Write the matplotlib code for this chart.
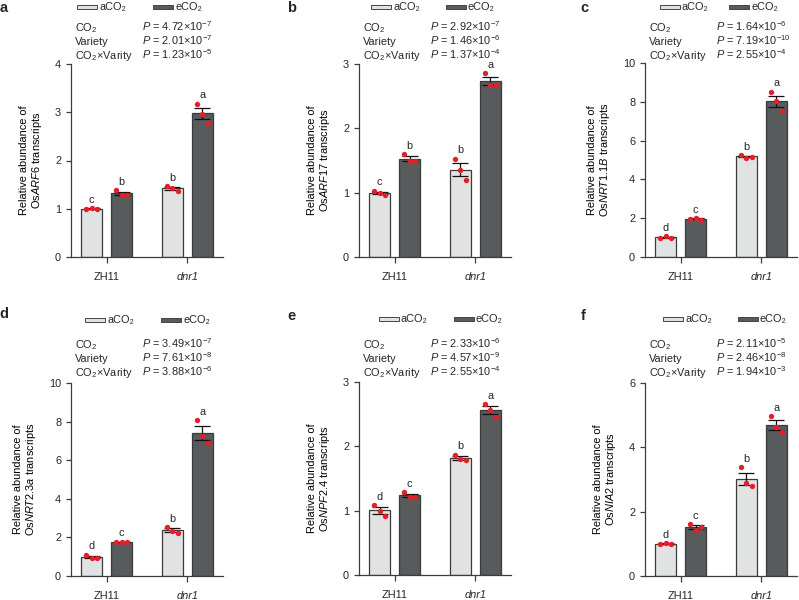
import numpy as np
import matplotlib.pyplot as plt
from matplotlib.patches import Rectangle

plt.rcParams['font.family'] = ['Liberation Sans', 'DejaVu Sans']
plt.rcParams['mathtext.fontset'] = 'custom'
plt.rcParams['mathtext.rm'] = 'Liberation Sans'
plt.rcParams['mathtext.it'] = 'Liberation Sans:italic'
plt.rcParams['mathtext.bf'] = 'Liberation Sans:bold'
plt.rcParams['font.size'] = 7.9
plt.rcParams['text.color'] = '#262626'

# replicate values: [ZH11, dnr1] x 3 replicates
groups = ['ZH11', 'dnr1']

arf6_a = [[1.00, 1.02, 0.99], [1.47, 1.44, 1.37]]
arf6_e = [[1.38, 1.29, 1.29], [3.18, 2.97, 2.78]]
arf6_let = [['c', 'b'], ['b', 'a']]   # [ZH11: aCO2, eCO2], [dnr1: aCO2, eCO2]
arf6_p = ['4.72×$10^{-7}$', '2.01×$10^{-7}$', '1.23×$10^{-5}$']

arf17_a = [[1.03, 1.00, 0.97], [1.53, 1.35, 1.19]]
arf17_e = [[1.60, 1.50, 1.49], [2.86, 2.68, 2.68]]
arf17_let = [['c', 'b'], ['b', 'a']]
arf17_p = ['2.92×$10^{-7}$', '1.46×$10^{-6}$', '1.37×$10^{-4}$']

nrt11b_a = [[0.98, 1.06, 1.00], [5.25, 5.12, 5.18]]
nrt11b_e = [[1.95, 2.02, 1.93], [8.53, 8.02, 7.50]]
nrt11b_let = [['d', 'c'], ['b', 'a']]
nrt11b_p = ['1.64×$10^{-6}$', '7.19×$10^{-10}$', '2.55×$10^{-4}$']

nrt23a_a = [[1.10, 0.95, 0.95], [2.55, 2.35, 2.25]]
nrt23a_e = [[1.77, 1.78, 1.76], [8.07, 7.24, 6.90]]
nrt23a_let = [['d', 'c'], ['b', 'a']]
nrt23a_p = ['3.49×$10^{-7}$', '7.61×$10^{-8}$', '3.88×$10^{-6}$']

npf24_a = [[1.09, 1.00, 0.92], [1.87, 1.80, 1.79]]
npf24_e = [[1.29, 1.22, 1.21], [2.66, 2.57, 2.46]]
npf24_let = [['d', 'c'], ['b', 'a']]
npf24_p = ['2.33×$10^{-6}$', '4.57×$10^{-9}$', '2.55×$10^{-4}$']

nia2_a = [[0.98, 1.03, 0.99], [3.39, 2.89, 2.79]]
nia2_e = [[1.62, 1.43, 1.53], [4.97, 4.62, 4.48]]
nia2_let = [['d', 'c'], ['b', 'a']]
nia2_p = ['2.11×$10^{-5}$', '2.46×$10^{-8}$', '1.94×$10^{-3}$']

light = '#e1e3e2'
dark = '#575b5c'
edge = '#3a3a3a'
red = '#e3202a'

W, H = 799, 600
fig = plt.figure(figsize=(W / 100, H / 100), dpi=100)

def fx(x):
    return x / W

def fy(y):
    return 1 - y / H

# letter, gene, data, ylim, ystep, axes box (left, top, bottom px), legend x's, legend y, letter pos
panels = [
    ('a', 'ARF6', arf6_a, arf6_e, arf6_let, arf6_p, 4, 1, (71, 64, 257), (77, 153), 7, (4, 8)),
    ('b', 'ARF17', arf17_a, arf17_e, arf17_let, arf17_p, 3, 1, (359, 64, 257), (371, 446), 7, (292, 8)),
    ('c', 'NRT1.1B', nrt11b_a, nrt11b_e, nrt11b_let, nrt11b_p, 10, 2, (645, 63, 257), (660, 729), 7, (584, 8)),
    ('d', 'NRT2.3a', nrt23a_a, nrt23a_e, nrt23a_let, nrt23a_p, 10, 2, (71, 383, 576), (85, 161), 320, (4, 314)),
    ('e', 'NPF2.4', npf24_a, npf24_e, npf24_let, npf24_p, 3, 1, (359, 382, 575), (379, 454), 319, (292, 316)),
    ('f', 'NIA2', nia2_a, nia2_e, nia2_let, nia2_p, 6, 2, (645, 383, 576), (663, 738), 319, (583, 316)),
]

off = 0.185
bw = 0.26
axw = 152

for (let, gene, da, de, lets, pv, ymax, ystep, box, legx, legy, letpos) in panels:
    L, T, B = box
    ax = fig.add_axes([fx(L), fy(B), axw / W, (B - T) / H])
    x = np.arange(len(groups))
    for k, (reps, col) in enumerate([(da, light), (de, dark)]):
        reps = np.array(reps)
        m = reps.mean(axis=1)
        sem = reps.std(axis=1, ddof=1) / np.sqrt(reps.shape[1])
        xp = x + (2 * k - 1) * off
        ax.bar(xp, m, bw, color=col, edgecolor=edge, linewidth=0.9, zorder=2)
        ax.errorbar(xp, m, yerr=sem, fmt='none', ecolor='#111111', elinewidth=0.9,
                    capsize=6, capthick=0.9, zorder=3)
        for i in range(len(groups)):
            ax.scatter(xp[i] + np.array([-0.07, 0, 0.07]), reps[i], s=15, color=red,
                       linewidths=0, zorder=4)
            top = max(reps[i].max(), m[i] + sem[i])
            ax.annotate(lets[i][k], (xp[i], top), xytext=(0, 3.8), textcoords='offset points',
                        ha='center', va='baseline', fontsize=7.9)
    ax.set_xlim(-0.44, 1.44)
    ax.set_ylim(0, ymax)
    ax.set_yticks(np.arange(0, ymax + 0.01, ystep))
    ax.set_xticks(x)
    tl = ax.set_xticklabels(groups)
    tl[1].set_style('italic')
    for s in ['top', 'right']:
        ax.spines[s].set_visible(False)
    for s in ['left', 'bottom']:
        ax.spines[s].set_color('#3d3d3d')
        ax.spines[s].set_linewidth(0.9)
    ax.tick_params(axis='y', length=3.6, width=0.9, pad=3.5, color='#3d3d3d', labelcolor='#262626')
    ax.tick_params(axis='x', length=4.5, width=0.9, pad=6, color='#3d3d3d', labelcolor='#262626')
    ax.set_ylabel('Relative abundance of\nOs$\\it{' + gene + '}$ transcripts', labelpad=8,
                  linespacing=1.05)

    # panel letter
    fig.text(fx(letpos[0]), fy(letpos[1]), let, fontsize=10.5, fontweight='bold',
             ha='center', va='center')

    # legend
    for lx, col, lab in [(legx[0], light, 'aCO₂'), (legx[1], dark, 'eCO₂')]:
        fig.patches.append(Rectangle((fx(lx), fy(legy + 2)), 20 / W, 4 / H,
                                     transform=fig.transFigure, facecolor=col,
                                     edgecolor='#444444', linewidth=0.7))
        fig.text(fx(lx + 22), fy(legy), lab, ha='left', va='center')

    # two-way ANOVA P values
    base = 31 if T < 200 else 348
    names = ['CO$_2$', 'Variety', 'CO$_2$×Varity']
    for j in range(3):
        fig.text(fx(L + 4), fy(base + 14 * j), names[j], ha='left', va='baseline')
        fig.text(fx(L + 71), fy(base + 14 * j), '$\\it{P}$ = ' + pv[j], ha='left', va='baseline')

fig.savefig('out.png', dpi=100)
